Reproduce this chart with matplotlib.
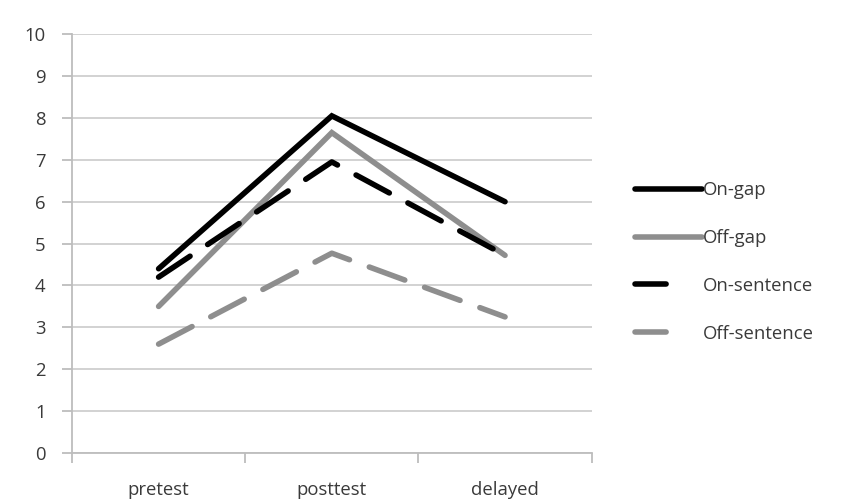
import matplotlib.pyplot as plt
from matplotlib.lines import Line2D

plt.rcParams['font.family'] = ['Open Sans', 'DejaVu Sans']

# data
phases = ['pretest', 'posttest', 'delayed']
on_gap = [4.4, 8.05, 6.0]
off_gap = [3.5, 7.65, 4.72]
on_sentence = [4.2, 6.95, 4.72]
off_sentence = [2.6, 4.77, 3.25]

series = [
    ('On-gap', on_gap, 'black', '-'),
    ('Off-gap', off_gap, '#8e8e8e', '-'),
    ('On-sentence', on_sentence, 'black', '--'),
    ('Off-sentence', off_sentence, '#8e8e8e', '--'),
]

LW = 4.0
FS = 13.3

fig = plt.figure(figsize=(8.44, 5.03), dpi=100)
ax = fig.add_axes([0.0853, 0.0994, 0.6157, 0.8326])

handles = []
for name, vals, col, ls in series:
    line, = ax.plot(range(len(phases)), vals, color=col, lw=LW,
                    solid_capstyle='round', dash_capstyle='round',
                    solid_joinstyle='miter', zorder=3)
    if ls == '--':
        line.set_dashes((6.8, 3.8))
        h = Line2D([], [], color=col, lw=LW, dash_capstyle='round',
                   dashes=(5.6, 20))
    else:
        h = Line2D([], [], color=col, lw=LW, solid_capstyle='round')
    handles.append(h)

ax.set_xlim(-0.5, 2.5)
ax.set_ylim(0, 10)
ax.set_yticks(range(0, 11))
ax.set_xticks([-0.5, 0.5, 1.5, 2.5])
ax.set_xticklabels([])
ax.set_xticks(range(len(phases)), minor=True)
ax.set_xticklabels(phases, minor=True)
ax.tick_params(axis='x', which='minor', length=0, pad=20)
ax.tick_params(axis='x', which='major', length=7, width=1.3, color='#bdbdbd')
ax.tick_params(axis='y', length=7, width=1.3, color='#bdbdbd', pad=12)
ax.tick_params(labelsize=FS, labelcolor='#3a3a3a', which='both')

ax.grid(axis='y', color='#cfcfcf', lw=1.3)
ax.set_axisbelow(True)
for s in ['top', 'right']:
    ax.spines[s].set_visible(False)
for s in ['left', 'bottom']:
    ax.spines[s].set_color('#bdbdbd')
    ax.spines[s].set_linewidth(1.3)

fig.legend(handles, [s[0] for s in series], loc='upper left',
           bbox_to_anchor=(0.733, 0.673), frameon=False, fontsize=FS,
           handlelength=3.6, handletextpad=0.05, labelspacing=1.62,
           labelcolor='#3a3a3a')

fig.savefig('out.png', dpi=100)
